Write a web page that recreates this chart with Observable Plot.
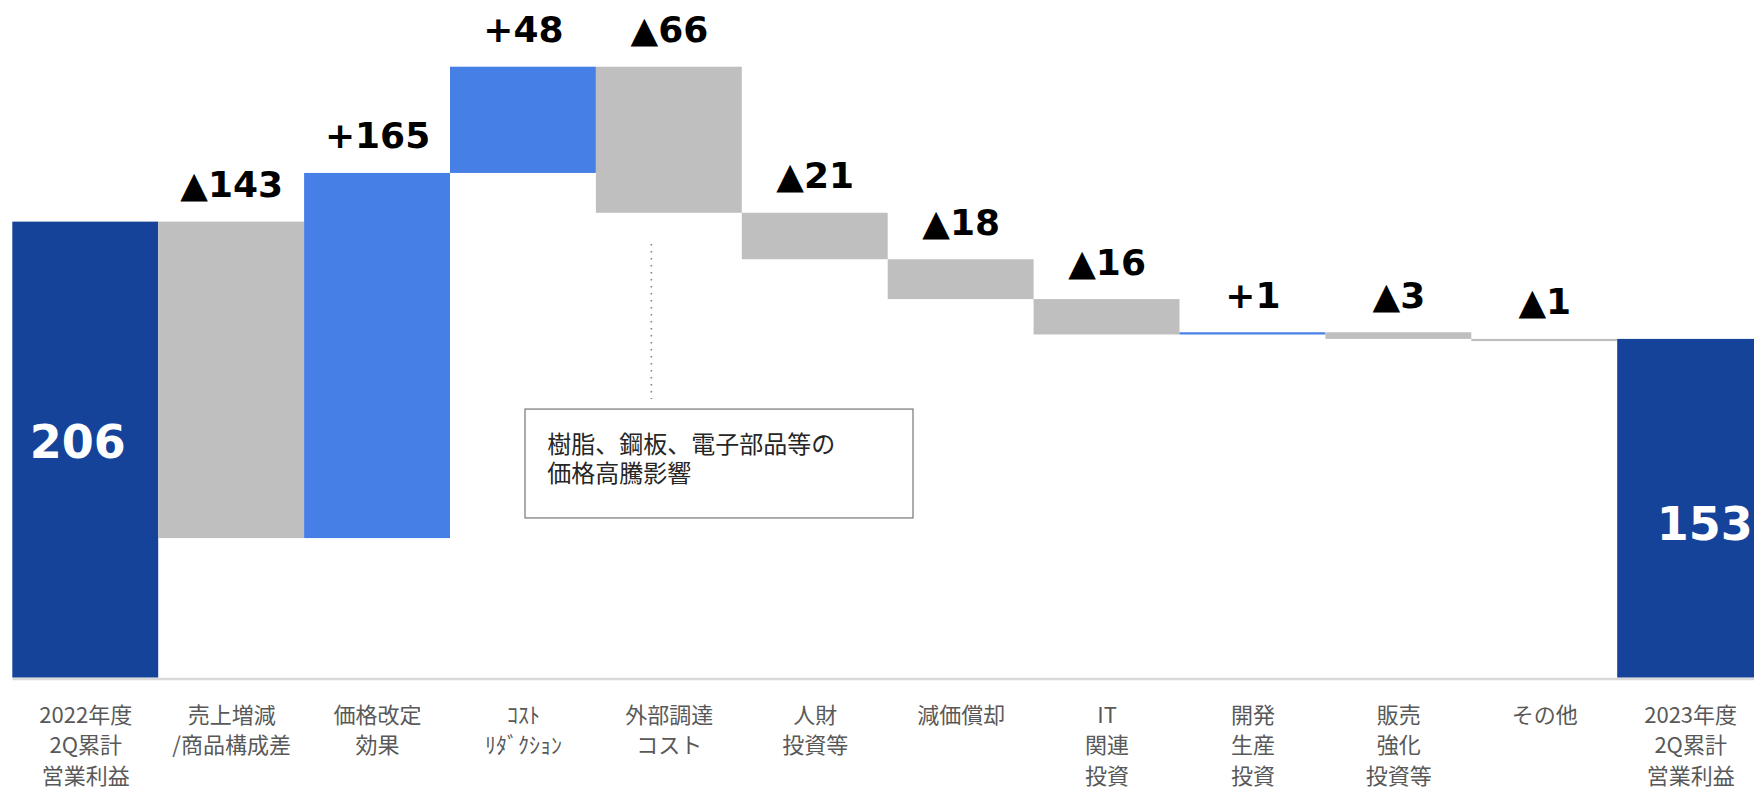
<!DOCTYPE html>
<html>
<head>
<meta charset="utf-8">
<script src="https://cdn.jsdelivr.net/npm/d3@7"></script>
<script src="https://cdn.jsdelivr.net/npm/@observablehq/plot@0.6"></script>
<style>
  html, body { margin: 0; padding: 0; background: #fff; overflow: hidden; }
  #chart svg { display: block; }
</style>
</head>
<body>
<div id="chart"></div>
<script>
// ---- data ----
const categories = [
  "2022年度\n2Q累計\n営業利益",
  "売上増減\n/商品構成差",
  "価格改定\n効果",
  "ｺｽﾄ\nﾘﾀﾞｸｼｮﾝ",
  "外部調達\nコスト",
  "人財\n投資等",
  "減価償却",
  "IT\n関連\n投資",
  "開発\n生産\n投資",
  "販売\n強化\n投資等",
  "その他",
  "2023年度\n2Q累計\n営業利益"
];
const kinds = ["total", "delta", "delta", "delta", "delta", "delta", "delta", "delta", "delta", "delta", "delta", "total"];
const values = [206, -143, 165, 48, -66, -21, -18, -16, 1, -3, -1, 153];
const annotationText = "樹脂、鋼板、電子部品等の\n価格高騰影響";
const annotationCategory = categories[4];

// ---- build waterfall rows ----
let run = 0;
const rows = categories.map((c, i) => {
  const v = values[i];
  let y1, y2;
  if (kinds[i] === "total") { y1 = 0; y2 = v; run = v; }
  else { y1 = run; y2 = run + v; run = y2; }
  const label = kinds[i] === "total" ? String(v) : (v < 0 ? "▲" + Math.abs(v) : "+" + v);
  const fill = kinds[i] === "total" ? "#15439A" : (v >= 0 ? "#4680E6" : "#BFBFBF");
  return {cat: c, kind: kinds[i], y1, y2, top: Math.max(y1, y2), mid: (y1 + y2) / 2, label, fill, i};
});
const deltas = rows.filter(d => d.kind === "delta");
const startTotal = rows.filter(d => d.i === 0);
const endTotal = rows.filter(d => d.i === rows.length - 1);

const W = 1754, H = 790;
const x0 = 12.3, bw = 145.9;
const baseY = 677.5, perUnit = 2.213;

const chart = Plot.plot({
  width: W,
  height: H,
  marginLeft: x0,
  marginRight: 0,
  marginTop: baseY - 300 * perUnit,
  marginBottom: H - baseY,
  style: {fontFamily: "'Noto Sans CJK JP', 'Noto Sans', sans-serif", background: "#fff"},
  x: {domain: categories, range: [x0, x0 + bw * categories.length], padding: 0, round: false, label: null},
  y: {domain: [0, 300], range: [baseY, baseY - 300 * perUnit], axis: null},
  color: {type: "identity"},
  marks: [
    Plot.ruleY([0], {stroke: "#D9D9D9", strokeWidth: 2.5, dy: 1}),
    Plot.barY(rows, {x: "cat", y1: "y1", y2: "y2", fill: "fill"}),
    Plot.axisX({
      tickSize: 0,
      tickPadding: 23,
      fontSize: 22,
      lineHeight: 1.39,
      color: "#595959",
      fill: "#595959",
      label: null
    }),
    // change labels above bars
    Plot.text(deltas, {
      x: "cat", y: "top", text: "label",
      fontFamily: "'DejaVu Sans', Verdana, sans-serif",
      fontWeight: "bold", fontSize: 36, fill: "#000",
      lineAnchor: "bottom", dy: -25
    }),
    // totals inside bars
    Plot.text(startTotal, {
      x: "cat", y: "mid", text: "label",
      fontFamily: "'DejaVu Sans', Verdana, sans-serif",
      fontWeight: "bold", fontSize: 46, fill: "#fff",
      dx: -8, dy: -7
    }),
    Plot.text(endTotal, {
      x: "cat", y: "mid", text: "label",
      fontFamily: "'DejaVu Sans', Verdana, sans-serif",
      fontWeight: "bold", fontSize: 46, fill: "#fff",
      dx: 14, dy: 17
    }),
    // annotation: dotted leader, box, text
    Plot.ruleX([annotationCategory], {
      y1: 195.9, y2: 125.8, dx: -18,
      stroke: "#808080", strokeWidth: 1.6, strokeDasharray: "1.6,5.4"
    }),
    Plot.rect([annotationCategory], {
      x: d => d, y1: 72.1, y2: 121.3,
      insetLeft: -70.9, insetRight: -171.2,
      fill: "none", stroke: "#808080", strokeWidth: 1.3
    }),
    Plot.text([annotationText], {
      x: () => annotationCategory, y: 110.8, text: d => d,
      textAnchor: "start", lineAnchor: "top", dx: -122,
      fontSize: 24, lineHeight: 1.21, fill: "#262626",
      fontFamily: "'Noto Sans CJK JP', sans-serif"
    })
  ]
});
document.getElementById("chart").append(chart);
</script>
</body>
</html>
